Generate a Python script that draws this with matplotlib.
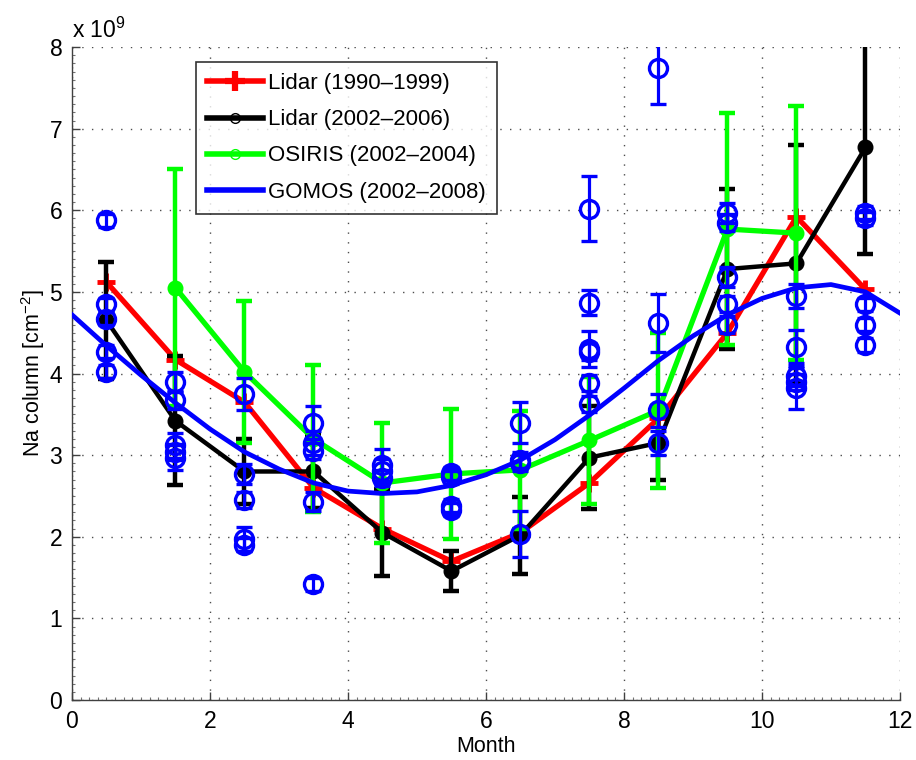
import matplotlib
matplotlib.use("Agg")
import matplotlib.pyplot as plt
from matplotlib.ticker import MultipleLocator
from matplotlib.lines import Line2D

plt.rcParams['font.family'] = ['Liberation Sans', 'DejaVu Sans']
plt.rcParams['mathtext.fontset'] = 'custom'
plt.rcParams['mathtext.rm'] = 'Liberation Sans'

months = [0.5, 1.5, 2.5, 3.5, 4.5, 5.5, 6.5, 7.5, 8.5, 9.5, 10.5, 11.5]

# Lidar 1990-1999 (red)
lidar90 = [5.12, 4.17, 3.65, 2.60, 2.10, 1.70, 2.05, 2.66, 3.45, 4.50, 5.92, 5.03]

# Lidar 2002-2006 (black)
lidar02 = [4.65, 3.42, 2.80, 2.80, 2.05, 1.58, 2.02, 2.97, 3.15, 5.28, 5.35, 6.77]
lidar02_err = [0.72, 0.79, 0.40, 0.45, 0.53, 0.25, 0.47, 0.63, 0.45, 0.98, 1.45, 1.30]

# OSIRIS 2002-2004 (green)
osiris_m = [1.5, 2.5, 3.5, 4.5, 5.5, 6.5, 7.5, 8.5, 9.5, 10.5]
osiris = [5.05, 4.02, 3.20, 2.66, 2.77, 2.82, 3.18, 3.55, 5.77, 5.72]
osiris_err = [1.45, 0.87, 0.90, 0.74, 0.80, 0.72, 0.78, 0.95, 1.42, 1.56]

# GOMOS individual years (blue circles)
gomos_m = ([0.5] * 5 + [1.5] * 5 + [2.5] * 5 + [3.5] * 5 + [4.5] * 3 + [5.5] * 4
           + [6.5] * 4 + [7.5] * 6 + [8.5] * 4 + [9.5] * 5 + [10.5] * 5 + [11.5] * 5)
gomos = [5.88, 4.85, 4.67, 4.27, 4.02,
         3.90, 3.67, 3.12, 3.04, 2.97,
         3.75, 2.77, 2.45, 1.97, 1.90,
         3.40, 3.15, 3.05, 2.43, 1.42,
         2.88, 2.80, 2.72,
         2.78, 2.73, 2.38, 2.33,
         3.40, 2.94, 2.90, 2.03,
         6.02, 4.87, 4.30, 4.27, 3.88, 3.63,
         7.74, 4.62, 3.55, 3.15,
         5.97, 5.85, 5.18, 4.85, 4.60,
         4.95, 4.33, 3.97, 3.90, 3.82,
         5.97, 5.90, 4.85, 4.60, 4.35]
gomos_err = [0.08, 0.08, 0.08, 0.08, 0.08,
             0.12, 0.10, 0.15, 0.10, 0.15,
             0.20, 0.12, 0.10, 0.15, 0.08,
             0.20, 0.15, 0.10, 0.12, 0.08,
             0.20, 0.15, 0.10,
             0.08, 0.08, 0.08, 0.08,
             0.25, 0.10, 0.10, 0.28,
             0.40, 0.15, 0.22, 0.10, 0.10, 0.10,
             0.44, 0.35, 0.20, 0.15,
             0.12, 0.10, 0.12, 0.10, 0.10,
             0.15, 0.20, 0.12, 0.10, 0.25,
             0.08, 0.08, 0.08, 0.08, 0.08]

# GOMOS fitted climatology (blue curve)
fit_t = [0, 0.5, 1, 1.5, 2, 2.5, 3, 3.5, 4, 4.5, 5, 5.5, 6, 6.5, 7, 7.5, 8,
         8.5, 9, 9.5, 10, 10.5, 11, 11.5, 12]
fit_v = [4.72, 4.34, 3.98, 3.64, 3.32, 3.04, 2.83, 2.66, 2.56, 2.53, 2.55,
         2.63, 2.76, 2.94, 3.19, 3.49, 3.82, 4.16, 4.46, 4.72, 4.92, 5.05,
         5.09, 5.00, 4.74]

labels = ['Lidar (1990\u20131999)', 'Lidar (2002\u20132006)',
          'OSIRIS (2002\u20132004)', 'GOMOS (2002\u20132008)']

RED = '#ff0000'
GREEN = '#00ff00'
BLUE = '#0000ff'

fig = plt.figure(figsize=(9.16, 7.6), dpi=100)
ax = fig.add_axes([0.0786, 0.0789, 0.9039, 0.8592])

# red
ax.plot(months, lidar90, color=RED, lw=3.8, marker='+', ms=13, mew=3.5, zorder=2)
# black
ax.errorbar(months, lidar02, yerr=lidar02_err, color='black', lw=3.2, marker='o',
            ms=10.5, elinewidth=3.2, capsize=6, capthick=3.2, zorder=3)
# green
ax.errorbar(osiris_m, osiris, yerr=osiris_err, color=GREEN, lw=3.8, marker='o',
            ms=10.5, elinewidth=3.2, capsize=6, capthick=3.2, zorder=4)
# blue points
ax.errorbar(gomos_m, gomos, yerr=gomos_err, color=BLUE, ls='none', marker='o',
            ms=13, mfc='none', mew=2.4, elinewidth=2.3, capsize=5.5, capthick=2.3,
            zorder=5)
# blue curve
ax.plot(fit_t, fit_v, color=BLUE, lw=3.4, zorder=6, solid_joinstyle='round')

ax.set_xlim(0, 12)
ax.set_ylim(0, 8)
ax.xaxis.set_major_locator(MultipleLocator(2))
ax.yaxis.set_major_locator(MultipleLocator(1))
ax.xaxis.set_minor_locator(MultipleLocator(0.125))
ax.yaxis.set_minor_locator(MultipleLocator(0.1))
ax.tick_params(which='major', direction='in', length=6, width=1.0, color='0.25',
               labelsize=16.5, pad=7)
ax.tick_params(which='minor', direction='in', length=2.5, width=0.8, color='0.45')
ax.spines['top'].set_visible(False)
ax.spines['right'].set_visible(False)
for s in ('left', 'bottom'):
    ax.spines[s].set_color('0.25')
    ax.spines[s].set_linewidth(1.0)
ax.grid(True, which='major', ls=(0, (1, 6)), lw=1.0, color='0.3')
ax.set_axisbelow(True)

ax.set_xlabel('Month', fontsize=15.5, labelpad=2)
ax.set_ylabel('Na column [cm$^{-2}$]', fontsize=15.5, labelpad=2)
ax.text(0.0, 1.025, r'x 10$^{9}$', transform=ax.transAxes, fontsize=16.5,
        ha='left', va='center')

handles = [
    Line2D([], [], color=RED, lw=4, marker='+', ms=15, mew=4.5),
    Line2D([], [], color='black', lw=4, marker='o', ms=7, mfc='none', mew=1),
    Line2D([], [], color=GREEN, lw=4, marker='o', ms=7, mfc='none', mew=1),
    Line2D([], [], color=BLUE, lw=4),
]
leg = ax.legend(handles, labels, loc='upper left', bbox_to_anchor=(0.15, 0.977),
                fontsize=16, handlelength=2.5, handletextpad=0.25,
                labelspacing=0.68, borderpad=0.5, frameon=True, fancybox=False,
                borderaxespad=0)
leg.get_frame().set_edgecolor('black')
leg.get_frame().set_linewidth(1.2)
leg.set_zorder(10)

fig.savefig('out.png', dpi=100)
